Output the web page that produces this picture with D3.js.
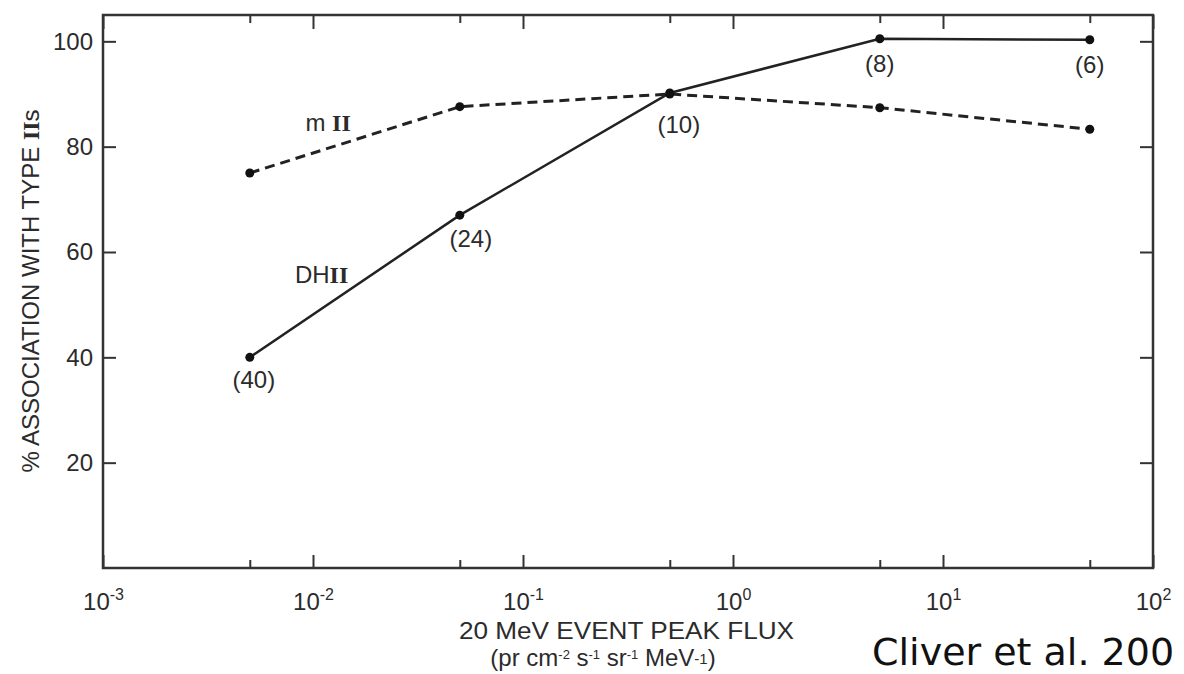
<!DOCTYPE html>
<html>
<head>
<meta charset="utf-8">
<script src="https://cdnjs.cloudflare.com/ajax/libs/d3/7.8.5/d3.min.js"></script>
<style>
	body { margin: 0; background: #fff; }
	svg { display: block; font-family: "Liberation Sans", Arial, sans-serif; }
	.axis text { fill: #2b2b2b; font-size: 24px; }
	.axis line { stroke: #333; stroke-width: 2; }
	.frame { fill: none; stroke: #333; stroke-width: 2.5; }
	.line { fill: none; stroke: #222; stroke-width: 2.5; }
	.line.dashed { stroke-dasharray: 10 6; stroke-width: 3; }
	.dot { fill: #111; }
	.lbl { fill: #2b2b2b; font-size: 24px; }
	.roman { font-family: "Liberation Serif", "DejaVu Serif", serif; font-weight: bold; }
</style>
</head>
<body>
<svg id="chart" width="1184" height="674"></svg>
<script>
// 20 MeV peak flux bins and % association with type II bursts
const fluxValues = [0.005, 0.05, 0.5, 5, 50];
const dhII = [40, 67, 90.2, 100.5, 100.3];
const mII = [75, 87.6, 90, 87.4, 83.3];
const eventCounts = [40, 24, 10, 8, 6];

const xMajorTicks = [1e-3, 1e-2, 1e-1, 1, 10, 100];
const xMinorTicks = [5e-3, 5e-2, 5e-1, 5, 50];
const yTicks = [20, 40, 60, 80, 100];

const svg = d3.select('#chart');
const margin = { left: 103, right: 31, top: 15, bottom: 106 };
const width = 1184, height = 674;

const x = d3.scaleLog()
	.domain([1e-3, 1e2])
	.range([margin.left, width - margin.right]);
const y = d3.scaleLinear()
	.domain([0, 105])
	.range([height - margin.bottom, margin.top]);

const x0 = x.range()[0], x1 = x.range()[1];
const y0 = y.range()[0], y1 = y.range()[1];

// ticks, all pointing inward
const bottom = svg.append('g').attr('class', 'axis')
	.attr('transform', `translate(0,${y0})`)
	.call(d3.axisBottom(x).tickValues(xMajorTicks).tickSize(-13).tickPadding(25).tickFormat(''));
bottom.selectAll('.tick text').each(function(d) {
	const t = d3.select(this);
	t.append('tspan').text('10');
	t.append('tspan').attr('dy', -10).attr('font-size', 16).text(Math.round(Math.log10(d)));
});
svg.append('g').attr('class', 'axis')
	.attr('transform', `translate(0,${y0})`)
	.call(d3.axisBottom(x).tickValues(xMinorTicks).tickSize(-8).tickFormat(''));
svg.append('g').attr('class', 'axis')
	.attr('transform', `translate(0,${y1})`)
	.call(d3.axisTop(x).tickValues(xMajorTicks).tickSize(-14).tickFormat(''));
svg.append('g').attr('class', 'axis')
	.attr('transform', `translate(0,${y1})`)
	.call(d3.axisTop(x).tickValues(xMinorTicks).tickSize(-8).tickFormat(''));
svg.append('g').attr('class', 'axis')
	.attr('transform', `translate(${x0},0)`)
	.call(d3.axisLeft(y).tickValues(yTicks).tickSize(-13).tickPadding(10));
svg.append('g').attr('class', 'axis')
	.attr('transform', `translate(${x1},0)`)
	.call(d3.axisRight(y).tickValues(yTicks).tickSize(-13).tickFormat(''));
svg.selectAll('.axis .domain').remove();

svg.append('rect').attr('class', 'frame')
	.attr('x', x0).attr('y', y1)
	.attr('width', x1 - x0).attr('height', y0 - y1);

// series
const line = d3.line()
	.x((d, i) => x(fluxValues[i]))
	.y(d => y(d));

svg.append('path').attr('class', 'line dashed').attr('d', line(mII));
svg.append('path').attr('class', 'line').attr('d', line(dhII));

[mII, dhII].forEach(series => {
	svg.append('g').selectAll('circle')
		.data(series)
		.join('circle')
		.attr('class', 'dot')
		.attr('cx', (d, i) => x(fluxValues[i]))
		.attr('cy', d => y(d))
		.attr('r', 4.5);
});

// event counts under the DH points
const countOffsets = [[4, 31], [11, 32], [9, 40], [0, 33], [0, 33]];
svg.append('g').selectAll('text')
	.data(eventCounts)
	.join('text')
	.attr('class', 'lbl')
	.attr('text-anchor', 'middle')
	.attr('x', (d, i) => x(fluxValues[i]) + countOffsets[i][0])
	.attr('y', (d, i) => y(dhII[i]) + countOffsets[i][1])
	.text(d => `(${d})`);

// series names
const mLabel = svg.append('text').attr('class', 'lbl')
	.attr('x', x(0.0092)).attr('y', y(83));
mLabel.append('tspan').text('m ');
mLabel.append('tspan').attr('class', 'roman').text('II');

const dhLabel = svg.append('text').attr('class', 'lbl')
	.attr('x', x(0.0082)).attr('y', y(54.1));
dhLabel.append('tspan').text('DH');
dhLabel.append('tspan').attr('class', 'roman').text('II');

// axis titles
const yTitle = svg.append('text').attr('class', 'lbl')
	.attr('font-size', 30)
	.attr('text-anchor', 'middle')
	.attr('transform', `translate(39,291) rotate(-90)`);
yTitle.append('tspan').text('% ASSOCIATION WITH TYPE ');
yTitle.append('tspan').attr('class', 'roman').text('II');
yTitle.append('tspan').text('s');

svg.append('text').attr('class', 'lbl')
	.attr('font-size', 23)
	.attr('x', 459).attr('y', 639)
	.attr('textLength', 335)
	.attr('lengthAdjust', 'spacingAndGlyphs')
	.text('20 MeV EVENT PEAK FLUX');

const unit = svg.append('text').attr('class', 'lbl')
	.attr('font-size', 20)
	.attr('text-anchor', 'middle')
	.attr('x', 603).attr('y', 666);
unit.append('tspan').text('(pr cm');
unit.append('tspan').attr('font-size', 13).attr('dy', -7).text('-2');
unit.append('tspan').attr('dy', 7).text(' s');
unit.append('tspan').attr('font-size', 13).attr('dy', -7).text('-1');
unit.append('tspan').attr('dy', 7).text(' sr');
unit.append('tspan').attr('font-size', 13).attr('dy', -7).text('-1');
unit.append('tspan').attr('dy', 7).text(' MeV');
unit.append('tspan').attr('font-size', 15).attr('dy', -2).text('-1');
unit.append('tspan').attr('dy', 2).text(')');

svg.append('text')
	.attr('x', 872).attr('y', 665)
	.attr('font-family', '"DejaVu Sans", sans-serif')
	.attr('font-size', 38)
	.attr('fill', '#111')
	.text('Cliver et al. 200');
</script>
</body>
</html>
